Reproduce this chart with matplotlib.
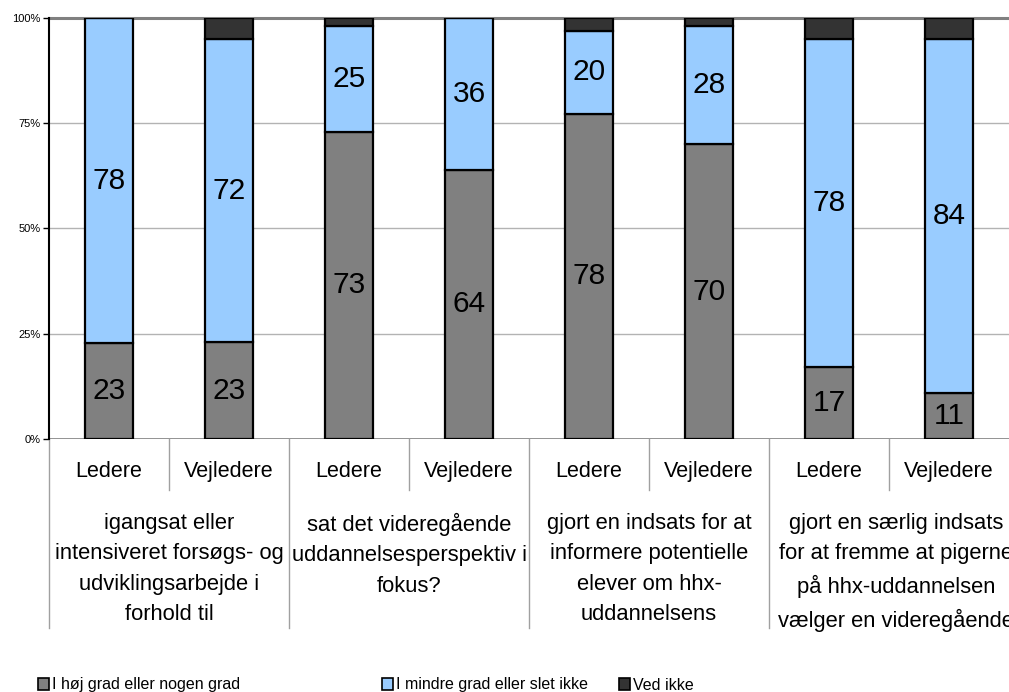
import matplotlib.pyplot as plt
from matplotlib.patches import Patch
import numpy as np

plt.rcParams['font.family'] = ['Liberation Sans', 'DejaVu Sans']

# data
roles = ['Ledere', 'Vejledere'] * 4
groups = ['igangsat eller\nintensiveret forsøgs- og\nudviklingsarbejde i\nforhold til',
          'sat det videregående\nuddannelsesperspektiv i\nfokus?',
          'gjort en indsats for at\ninformere potentielle\nelever om hhx-\nuddannelsens',
          'gjort en særlig indsats\nfor at fremme at pigerne\npå hhx-uddannelsen\nvælger en videregående']
hoej = [23, 23, 73, 64, 78, 70, 17, 11]
mindre = [78, 72, 25, 36, 20, 28, 78, 84]
ved_ikke = [0, 5, 2, 0, 3, 2, 5, 5]
series_names = ['I høj grad eller nogen grad', 'I mindre grad eller slet ikke', 'Ved ikke']
colors = ['#808080', '#99ccff', '#333333']

vals = np.array([hoej, mindre, ved_ikke], dtype=float)
shares = vals / vals.sum(axis=0) * 100

fig = plt.figure(figsize=(10.09, 6.92), dpi=100)
ax = fig.add_axes([49 / 1009, (692 - 439) / 692, 960 / 1009, 421 / 692])

x = np.arange(len(roles))
bottom = np.zeros(len(roles))
for k in range(3):
    ax.bar(x, shares[k], 0.4, bottom=bottom, color=colors[k],
           edgecolor='black', linewidth=1.6, zorder=3)
    if k < 2:
        for i in range(len(roles)):
            ax.text(x[i], bottom[i] + shares[k][i] / 2, str(int(vals[k][i])),
                    ha='center', va='center', fontsize=21.5, zorder=4)
    bottom += shares[k]

ax.set_xlim(-0.5, 7.5)
ax.set_ylim(0, 100)
ax.set_yticks([0, 25, 50, 75, 100])
ax.set_yticklabels(['0%', '25%', '50%', '75%', '100%'], fontsize=8)
ax.tick_params(axis='y', length=4, width=1, pad=2)
ax.set_xticks([])
for y in [25, 50, 75]:
    ax.axhline(y, color='#b3b3b3', lw=1, zorder=1)
ax.axhline(100, color='#808080', lw=2.2, zorder=2, clip_on=False)
ax.axhline(0, color='#808080', lw=1.2, zorder=2)
for s in ['top', 'right', 'bottom']:
    ax.spines[s].set_visible(False)
ax.spines['left'].set_linewidth(1.5)

# category axis labels
tr = ax.get_xaxis_transform()
for i, r in enumerate(roles):
    ax.text(x[i], -0.078, r, transform=tr, ha='center', va='center', fontsize=15.5)
for g in range(4):
    cx = 2 * g + 0.5 + (0.06 if g == 3 else 0.0)
    ax.text(cx, -0.175, groups[g], transform=tr, ha='center', va='top',
            fontsize=15.8, linespacing=1.6)
for b in [-0.5, 1.5, 3.5, 5.5]:
    ax.plot([b, b], [0, -0.449], transform=tr, color='#a0a0a0', lw=1, clip_on=False)
for b in [0.5, 2.5, 4.5, 6.5]:
    ax.plot([b, b], [0, -0.121], transform=tr, color='#a0a0a0', lw=1, clip_on=False)

# legend
leg_x = [38 / 1009, 382 / 1009, 619 / 1009]
for k in range(3):
    h = Patch(facecolor=colors[k], edgecolor='black', linewidth=1.2)
    fig.legend([h], [series_names[k]], loc='center left',
               bbox_to_anchor=(leg_x[k], 7 / 692), frameon=False, fontsize=11.5,
               handlelength=0.7, handleheight=0.7, handletextpad=0.2,
               borderpad=0, borderaxespad=0)

fig.savefig('out.png', dpi=100)
